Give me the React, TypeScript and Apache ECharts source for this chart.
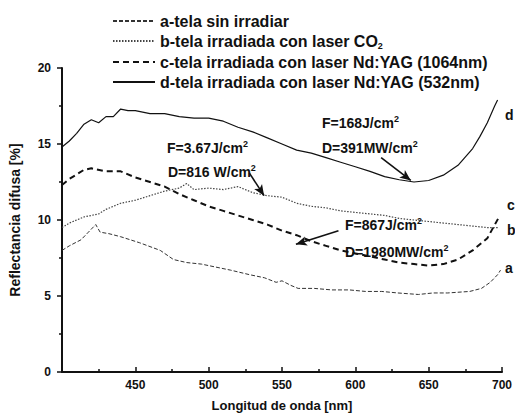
import React, { useEffect, useRef } from 'react';
import * as echarts from 'echarts';

const FONT = 'Liberation Sans, Arial, sans-serif';

const seriesNames = [
  'a-tela sin irradiar',
  'b-tela irradiada con laser CO2',
  'c-tela irradiada con laser Nd:YAG (1064nm)',
  'd-tela irradiada con laser Nd:YAG (532nm)',
];

const waveA = [400, 405, 413, 418, 423, 426, 432, 440, 453, 467, 476, 485, 495, 505, 515, 528, 538, 546, 550, 556, 561, 572, 584, 596, 607, 618, 629, 643, 653, 663, 678, 686, 692, 697, 699];
const reflA = [8.0, 8.3, 8.7, 9.2, 9.7, 9.2, 9.1, 8.9, 8.5, 8.0, 7.4, 7.2, 7.1, 6.9, 6.7, 6.4, 6.2, 5.9, 6.0, 5.7, 5.5, 5.5, 5.4, 5.4, 5.3, 5.3, 5.2, 5.1, 5.2, 5.2, 5.3, 5.5, 5.9, 6.4, 6.7];

const waveB = [400, 405, 410, 415, 420, 425, 430, 440, 450, 460, 470, 480, 485, 490, 500, 510, 520, 530, 540, 550, 560, 570, 580, 590, 600, 610, 620, 630, 640, 650, 660, 670, 680, 690, 698];
const reflB = [9.5, 9.8, 10.0, 10.2, 10.3, 10.4, 10.7, 11.1, 11.3, 11.6, 11.9, 12.1, 12.4, 12.0, 12.1, 12.0, 12.2, 11.8, 11.6, 11.5, 11.1, 10.9, 10.8, 10.6, 10.5, 10.4, 10.3, 10.1, 10.0, 9.9, 9.8, 9.7, 9.6, 9.5, 9.5];

const waveC = [400, 405, 410, 415, 420, 430, 440, 450, 460, 470, 480, 490, 500, 510, 520, 530, 540, 550, 560, 570, 580, 590, 600, 610, 620, 630, 640, 650, 660, 670, 680, 690, 698];
const reflC = [12.3, 12.7, 13.0, 13.3, 13.4, 13.2, 13.2, 12.8, 12.5, 12.2, 11.7, 11.3, 10.9, 10.6, 10.3, 10.0, 9.7, 9.3, 9.0, 8.6, 8.3, 8.0, 7.8, 7.6, 7.4, 7.2, 7.1, 7.0, 7.1, 7.4, 8.0, 8.8, 10.2];

const waveD = [400, 405, 410, 415, 420, 425, 430, 435, 440, 445, 450, 460, 470, 480, 490, 500, 510, 520, 530, 540, 550, 560, 570, 580, 590, 600, 610, 620, 630, 640, 650, 660, 670, 680, 685, 690, 695, 697];
const reflD = [14.8, 15.2, 15.7, 16.3, 16.6, 16.4, 16.8, 16.8, 17.3, 17.2, 17.2, 17.0, 17.0, 16.8, 16.7, 16.7, 16.5, 16.1, 15.8, 15.4, 15.0, 14.6, 14.4, 14.1, 13.8, 13.5, 13.2, 12.85, 12.65, 12.5, 12.6, 12.95, 13.6, 14.7, 15.5, 16.4, 17.5, 17.9];

// annotation arrows [fromWave, fromRefl, toWave, toRefl]
const arrows = [
  [617.6, 14.1, 637.8, 12.6],
  [527.7, 13.1, 537.8, 11.6],
  [588.5, 9.3, 559.5, 8.4],
];

const xTicks = [450, 500, 550, 600, 650, 700];
const yTicks = [0, 5, 10, 15, 20];

const zip = (w: number[], r: number[]) => w.map((x, i) => [x, r[i]]);

export default function App() {
  const ref = useRef<HTMLDivElement>(null);
  useEffect(() => {
    if (!ref.current) return;
    const chart = echarts.init(ref.current, null, { renderer: 'svg' });
    const lbl = { fontFamily: FONT, fontWeight: 'bold' as const, color: '#111' };
    const richAnn = {
      n: { fontSize: 14, fontWeight: 'bold', fontFamily: FONT, fill: '#111', lineHeight: 18 },
      s: { fontSize: 9, fontWeight: 'bold', fontFamily: FONT, fill: '#111', lineHeight: 10, verticalAlign: 'top' },
    };
    const annText = (x: number, y: number, main: string, sup: string) => ({
      type: 'text',
      x,
      y,
      style: { text: `{n|${main}}{s|${sup}}`, rich: richAnn, verticalAlign: 'middle' },
    });
    const endText = (x: number, y: number, t: string) => ({
      type: 'text',
      x,
      y,
      style: { text: t, fontSize: 14, fontWeight: 'bold', fontFamily: FONT, fill: '#111', verticalAlign: 'middle' },
    });
    const lineStyles = [
      { color: '#333', width: 1, type: [4, 2] },
      { color: '#444', width: 1.2, type: [1.5, 1.5] },
      { color: '#111', width: 2, type: [6, 4] },
      { color: '#111', width: 1.2, type: 'solid' },
    ];
    const datas = [zip(waveA, reflA), zip(waveB, reflB), zip(waveC, reflC), zip(waveD, reflD)];
    chart.setOption({
      animation: false,
      backgroundColor: '#fff',
      grid: { left: 61, right: 10, top: 68, bottom: 47 },
      legend: {
        orient: 'vertical',
        left: 112,
        top: 13,
        padding: 0,
        itemWidth: 42,
        itemHeight: 14,
        itemGap: 4,
        data: seriesNames,
        itemStyle: { color: 'rgba(0,0,0,0)', borderColor: 'rgba(0,0,0,0)', borderWidth: 0, opacity: 0 },
        formatter: (name: string) =>
          name.endsWith('CO2') ? `{n|${name.slice(0, -1)}}{s|2}` : `{n|${name}}`,
        textStyle: {
          rich: {
            n: { fontSize: 16, fontWeight: 'bold', fontFamily: FONT, color: '#111', lineHeight: 18 },
            s: { fontSize: 9, fontWeight: 'bold', fontFamily: FONT, color: '#111', lineHeight: 10, verticalAlign: 'bottom' },
          },
        },
      },
      xAxis: {
        type: 'value',
        min: 400,
        max: 700,
        interval: 50,
        name: 'Longitud de onda [nm]',
        nameLocation: 'middle',
        nameGap: 27,
        nameTextStyle: { ...lbl, fontSize: 13 },
        axisLine: { lineStyle: { color: '#111', width: 2 } },
        axisTick: { inside: true, length: 5, lineStyle: { color: '#111', width: 1.5 } },
        minorTick: { show: true, splitNumber: 2, length: 3, lineStyle: { color: '#111', width: 1.5 } },
        splitLine: { show: false },
        axisLabel: {
          ...lbl,
          fontSize: 12,
          margin: 7,
          formatter: (v: number) => (xTicks.includes(v) ? String(v) : ''),
        },
      },
      yAxis: {
        type: 'value',
        min: 0,
        max: 20,
        interval: 5,
        name: 'Reflectancia difusa [%]',
        nameLocation: 'middle',
        nameGap: 40,
        nameTextStyle: { ...lbl, fontSize: 14 },
        axisLine: { show: true, lineStyle: { color: '#111', width: 2 } },
        axisTick: { show: true, length: 5, lineStyle: { color: '#111', width: 1.5 } },
        minorTick: { show: true, splitNumber: 2, length: 3, lineStyle: { color: '#111', width: 1.5 } },
        splitLine: { show: false },
        axisLabel: {
          ...lbl,
          fontSize: 12,
          margin: 11,
          formatter: (v: number) => (yTicks.includes(v) ? String(v) : ''),
        },
      },
      series: seriesNames.map((name, i) => ({
        name,
        type: 'line',
        data: datas[i],
        showSymbol: false,
        symbol: 'none',
        smooth: false,
        lineStyle: lineStyles[i],
        itemStyle: { color: lineStyles[i].color },
        z: 2 + i,
        markLine:
          i === 3
            ? {
                silent: true,
                symbol: ['none', 'arrow'],
                symbolSize: [7, 11],
                label: { show: false },
                lineStyle: { color: '#111', width: 1.6, type: 'solid' },
                data: arrows.map((a) => [{ coord: [a[0], a[1]] }, { coord: [a[2], a[3]] }]),
              }
            : undefined,
      })),
      graphic: [
        annText(167, 148, 'F=3.67J/cm', '2'),
        annText(168, 172, 'D=816 W/cm', '2'),
        annText(322, 123, 'F=168J/cm', '2'),
        annText(322, 148, 'D=391MW/cm', '2'),
        annText(345, 225, 'F=867J/cm', '2'),
        annText(345, 252, 'D=1980MW/cm', '2'),
        endText(505, 115, 'd'),
        endText(507, 205, 'c'),
        endText(507, 230, 'b'),
        endText(505, 268, 'a'),
      ],
    });
    return () => chart.dispose();
  }, []);
  return <div ref={ref} style={{ position: 'fixed', left: 0, top: 0, width: 515, height: 419, background: '#fff' }} />;
}
